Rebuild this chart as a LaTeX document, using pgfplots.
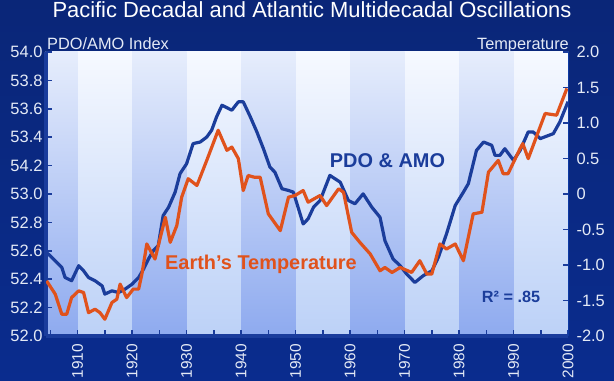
\documentclass[border=0pt]{standalone}
\usepackage{pgfplots}
\pgfplotsset{compat=1.18}
\usepackage{fontspec}
\setmainfont{Liberation Sans}
\definecolor{bgtop}{HTML}{0A2678}
\definecolor{bgmid}{HTML}{0C39A3}
\definecolor{bgbot}{HTML}{0A2C8E}
\definecolor{axisblue}{HTML}{1A3C9C}
\definecolor{labelc}{HTML}{E4EAF6}
\definecolor{ltop}{HTML}{F6F9FF}
\definecolor{lmid}{HTML}{DDE8FB}
\definecolor{lbot}{HTML}{BCD1F7}
\definecolor{dtop}{HTML}{E6EDFC}
\definecolor{dmid}{HTML}{BACEF6}
\definecolor{dbot}{HTML}{8EAAEF}
\definecolor{pdoblue}{HTML}{1B3D9B}
\definecolor{temporange}{HTML}{E0521C}
\begin{document}
\begin{tikzpicture}
\shade[top color=bgtop, middle color=bgmid, bottom color=bgbot] (0,0) rectangle (614bp,381bp);
\node[anchor=base, text=white, font=\fontsize{22}{24}\selectfont, inner sep=0pt] at (312bp,363bp) {Pacific Decadal and Atlantic Multidecadal Oscillations};
\begin{axis}[
  at={(46bp,45bp)}, anchor=south west, scale only axis,
  width=522bp, height=284bp,
  xmin=1904.2, xmax=2000, ymin=52, ymax=54,
  axis on top=true,
  axis x line*=bottom, axis y line*=left,
  axis line style={draw=axisblue, line width=3bp},
  xtick={1910,1920,1930,1940,1950,1960,1970,1980,1990,2000},
  minor xtick={1905,1915,1925,1935,1945,1955,1965,1975,1985,1995},
  xticklabels={1910,1920,1930,1940,1950,1960,1970,1980,1990,2000},
  ytick={52,52.2,52.4,52.6,52.8,53,53.2,53.4,53.6,53.8,54},
  yticklabels={52.0,52.2,52.4,52.6,52.8,53.0,54.2,53.4,53.6,53.8,54.0},
  tick align=inside, major tick length=6bp, minor tick length=6bp,
  tick style={draw=axisblue, line width=1.5bp},
  ticklabel style={text=labelc, font=\fontsize{16.5}{18}\selectfont},
  xticklabel style={inner sep=0pt, font=\fontsize{15.5}{17}\selectfont, yshift=-8bp, rotate=90, anchor=east},
]
\shade[top color=ltop, middle color=lmid, bottom color=lbot] (axis cs:1904.2,52) rectangle (axis cs:2000,54);
\shade[top color=dtop, middle color=dmid, bottom color=dbot] (axis cs:1904.2,52) rectangle (axis cs:1910,54);
\shade[top color=dtop, middle color=dmid, bottom color=dbot] (axis cs:1920,52) rectangle (axis cs:1930,54);
\shade[top color=dtop, middle color=dmid, bottom color=dbot] (axis cs:1940,52) rectangle (axis cs:1950,54);
\shade[top color=dtop, middle color=dmid, bottom color=dbot] (axis cs:1960,52) rectangle (axis cs:1970,54);
\shade[top color=dtop, middle color=dmid, bottom color=dbot] (axis cs:1980,52) rectangle (axis cs:1990,54);
\addplot[pdoblue, line width=3.2bp, line join=round, no markers] coordinates {
(1904.3,52.589) (1906.2,52.518) (1907.1,52.483) (1907.7,52.412) (1908.9,52.389)
(1910.2,52.495) (1911.1,52.459) (1912.0,52.412) (1913.2,52.389) (1914.5,52.353)
(1915.0,52.295) (1916.3,52.318) (1917.5,52.306) (1918.7,52.330) (1920.0,52.365)
(1921.2,52.412) (1922.1,52.471) (1923.0,52.542) (1923.9,52.601) (1924.8,52.636)
(1925.7,52.848) (1926.7,52.907) (1927.9,53.013) (1928.8,53.143) (1930.0,53.213)
(1931.2,53.355) (1932.5,53.366) (1933.7,53.401) (1934.6,53.449) (1935.5,53.543)
(1936.5,53.625) (1938.3,53.590) (1939.5,53.649) (1940.4,53.649) (1941.7,53.543)
(1942.9,53.437) (1944.1,53.319) (1945.3,53.189) (1946.2,53.154) (1947.5,53.037)
(1948.7,53.025) (1949.6,53.013) (1951.4,52.789) (1952.3,52.825) (1953.3,52.907)
(1954.5,52.954) (1956.3,53.131) (1958.2,53.083) (1959.7,52.954) (1960.9,52.931)
(1962.4,53.001) (1964.0,52.907) (1965.5,52.836) (1966.4,52.671) (1967.9,52.542)
(1969.2,52.495) (1970.4,52.436) (1971.9,52.377) (1973.4,52.424) (1975.0,52.459)
(1976.2,52.553) (1977.7,52.719) (1979.3,52.919) (1980.8,53.013) (1981.7,53.072)
(1983.2,53.307) (1984.5,53.366) (1986.0,53.343) (1986.6,53.272) (1987.5,53.272)
(1988.4,53.319) (1990.0,53.237) (1991.2,53.307) (1992.7,53.437) (1993.6,53.437)
(1994.9,53.390) (1997.3,53.425) (1998.5,53.507) (2000.0,53.650)
};
\end{axis}
\begin{axis}[
  at={(46bp,45bp)}, anchor=south west, scale only axis,
  width=522bp, height=284bp,
  xmin=1904.2, xmax=2000, ymin=-2, ymax=2,
  axis on top=true,
  axis x line=none, axis y line*=right,
  axis line style={draw=bgmid, line width=0.5bp},
  ytick={-2,-1.5,-1,-0.5,0,0.5,1,1.5,2},
  yticklabels={-2.0,-1.5,-1.0,-0.5,0,0.5,1.0,1.5,2.0},
  tick align=inside, major tick length=5bp,
  tick style={draw=axisblue, line width=1.5bp},
  yticklabel style={text=labelc, font=\fontsize{16.5}{18}\selectfont, xshift=5bp},
]
\addplot[temporange, line width=3.2bp, line join=round, no markers] coordinates {
(1904.3,-1.223) (1905.9,-1.411) (1907.1,-1.693) (1908.0,-1.693) (1908.9,-1.459)
(1910.2,-1.364) (1911.1,-1.388) (1912.0,-1.671) (1913.2,-1.623) (1914.1,-1.671)
(1915.0,-1.764) (1916.3,-1.529) (1917.2,-1.481) (1917.8,-1.269) (1919.0,-1.459)
(1920.2,-1.340) (1921.2,-1.340) (1921.8,-1.128) (1922.7,-0.704) (1924.2,-0.916)
(1926.1,-0.328) (1927.0,-0.681) (1928.2,-0.445) (1929.1,-0.045) (1930.3,0.215)
(1931.9,0.120) (1933.7,0.473) (1935.8,0.898) (1937.4,0.615) (1938.3,0.661)
(1939.5,0.498) (1940.4,0.049) (1941.3,0.261) (1942.4,0.237) (1943.5,0.237)
(1945.0,-0.280) (1947.2,-0.516) (1948.7,-0.045) (1949.9,-0.021) (1951.4,0.049)
(1952.3,-0.116) (1954.5,-0.021) (1955.7,-0.163) (1957.9,0.073) (1958.8,0.025)
(1960.3,-0.540) (1961.8,-0.681) (1963.7,-0.845) (1965.5,-1.081) (1966.4,-1.035)
(1967.7,-1.105) (1969.2,-1.035) (1971.3,-1.105) (1972.8,-0.940) (1974.1,-1.128)
(1975.0,-1.128) (1976.5,-0.704) (1977.7,-0.775) (1979.3,-0.704) (1980.8,-0.940)
(1982.6,-0.280) (1984.2,-0.257) (1985.4,0.308) (1987.2,0.473) (1988.1,0.286)
(1989.0,0.286) (1991.2,0.639) (1991.7,0.710) (1992.7,0.498) (1994.3,0.827)
(1995.8,1.134) (1997.9,1.110) (1999.8,1.487)
};
\end{axis}
\node[anchor=base west, inner sep=0pt, text=labelc, font=\fontsize{16.4}{18}\selectfont] at (47bp,331bp) {PDO/AMO Index};
\node[anchor=base east, inner sep=0pt, text=labelc, font=\fontsize{16.4}{18}\selectfont] at (569bp,331bp) {Temperature};
\node[anchor=base, inner sep=0pt, text=pdoblue, font=\bfseries\fontsize{20}{22}\selectfont] at (387.5bp,213.7bp) {PDO \& AMO};
\node[anchor=base west, inner sep=0pt, text=temporange, font=\bfseries\fontsize{20}{22}\selectfont] at (165bp,111bp) {Earth’s Temperature};
\node[anchor=base west, inner sep=0pt, text=pdoblue, font=\bfseries\fontsize{16.3}{18}\selectfont] at (481.7bp,78.7bp) {R² = .85};
\pgfresetboundingbox
\useasboundingbox (0,0) rectangle (614bp,381bp);
\end{tikzpicture}
\end{document}
